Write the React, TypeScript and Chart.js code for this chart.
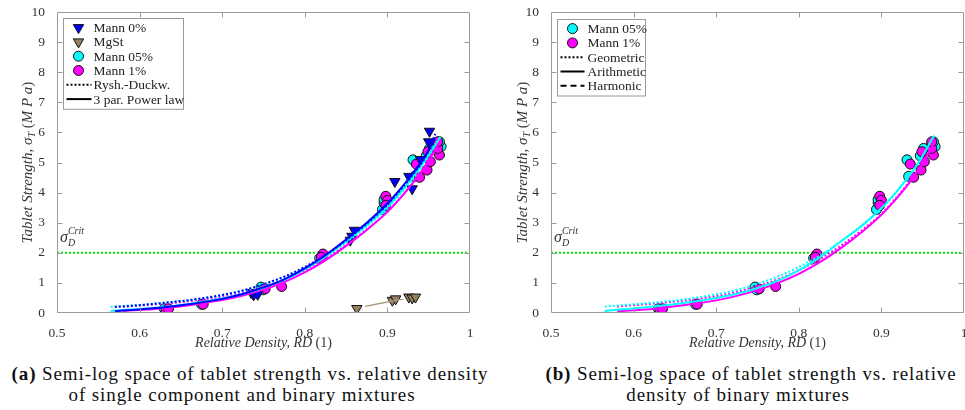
import React, { useEffect, useRef } from "react";
import { Chart, registerables } from "chart.js";

Chart.register(...registerables);

// ---------------- DATA ----------------
const X_TICKS = [0.5, 0.6, 0.7, 0.8, 0.9, 1];
const Y_TICKS = [0, 1, 2, 3, 4, 5, 6, 7, 8, 9, 10];
const CRIT_STRENGTH = 2;

// Mann 0% (blue down triangles)
const MANN0_RD = [0.735, 0.738, 0.743, 0.855, 0.857, 0.86, 0.909, 0.926, 0.93, 0.94, 0.95, 0.951];
const MANN0_TS = [0.68, 0.6, 0.62, 2.42, 2.55, 2.75, 4.37, 4.54, 4.13, 5.1, 5.69, 6.04];

// MgSt (brown down triangles)
const MGST_RD = [0.863, 0.906, 0.91, 0.926, 0.93, 0.934];
const MGST_TS = [0.15, 0.42, 0.47, 0.53, 0.5, 0.53];
const MGST_FIT_RD = [0.873, 0.92];
const MGST_FIT_TS = [0.22, 0.47];

// Mann 05% (cyan circles)
const MANN05_RD = [0.63, 0.675, 0.747, 0.749, 0.818, 0.894, 0.896, 0.896, 0.931, 0.933, 0.947, 0.951, 0.961, 0.965, 0.963];
const MANN05_TS = [0.14, 0.29, 0.86, 0.77, 1.82, 3.44, 3.66, 3.77, 5.09, 4.54, 5.22, 5.47, 5.64, 5.53, 5.69];

// Mann 1% (magenta circles)
const MANN1_RD = [0.632, 0.635, 0.677, 0.752, 0.772, 0.822, 0.82, 0.898, 0.9, 0.898, 0.935, 0.939, 0.948, 0.952, 0.949, 0.963, 0.961, 0.961];
const MANN1_TS = [0.09, 0.14, 0.29, 0.8, 0.88, 1.96, 1.85, 3.88, 3.74, 3.58, 4.95, 4.51, 4.75, 5.03, 5.36, 5.25, 5.47, 5.69];

// Relative-density stations at which the fitted curves were read
const RD_BLUE = [0.57, 0.6, 0.63, 0.66, 0.7, 0.725, 0.75, 0.775, 0.8, 0.825, 0.85, 0.875, 0.9, 0.915, 0.93, 0.945, 0.958];
const RD_CYAN = [0.565, 0.6, 0.63, 0.66, 0.7, 0.725, 0.75, 0.775, 0.8, 0.825, 0.85, 0.875, 0.9, 0.915, 0.93, 0.945, 0.964];
const RD_MAG = [0.58, 0.6, 0.63, 0.66, 0.7, 0.725, 0.75, 0.775, 0.8, 0.825, 0.85, 0.875, 0.9, 0.915, 0.93, 0.945, 0.965];

// Left panel: 3 par. power law (solid) and Ryshkewitch-Duckworth (dotted)
const POW_BLUE_TS = [0.06, 0.12, 0.19, 0.29, 0.47, 0.63, 0.85, 1.12, 1.48, 1.92, 2.44, 3.0, 3.64, 4.1, 4.62, 5.18, 5.8];
const POW_CYAN_TS = [0.07, 0.13, 0.2, 0.3, 0.48, 0.63, 0.84, 1.1, 1.45, 1.87, 2.38, 2.92, 3.54, 3.98, 4.49, 5.05, 5.85];
const POW_MAG_TS = [0.07, 0.1, 0.16, 0.26, 0.43, 0.58, 0.78, 1.03, 1.35, 1.75, 2.23, 2.76, 3.36, 3.8, 4.3, 4.86, 5.75];
const RYSH_BLUE_TS = [0.2, 0.26, 0.34, 0.43, 0.6, 0.75, 0.96, 1.21, 1.53, 1.93, 2.42, 2.97, 3.6, 4.06, 4.57, 5.14, 5.95];
const RYSH_CYAN_TS = [0.21, 0.27, 0.34, 0.43, 0.59, 0.74, 0.94, 1.19, 1.5, 1.88, 2.35, 2.88, 3.48, 3.93, 4.43, 5.0, 5.85];
const RYSH_MAG_TS = [0.21, 0.25, 0.31, 0.39, 0.54, 0.68, 0.87, 1.11, 1.42, 1.8, 2.26, 2.78, 3.36, 3.8, 4.28, 4.83, 5.72];

// Right panel: arithmetic (solid) and geometric (dotted) mixture fits
const ARITH_CYAN_TS = [0.07, 0.15, 0.23, 0.33, 0.5, 0.64, 0.83, 1.08, 1.42, 1.84, 2.36, 2.87, 3.48, 3.92, 4.43, 5.0, 5.9];
const ARITH_MAG_TS = [0.06, 0.09, 0.15, 0.26, 0.42, 0.57, 0.76, 1.0, 1.3, 1.68, 2.14, 2.66, 3.26, 3.7, 4.19, 4.76, 5.7];
const GEO_CYAN_TS = [0.22, 0.29, 0.36, 0.45, 0.62, 0.77, 0.97, 1.22, 1.53, 1.9, 2.36, 2.88, 3.48, 3.92, 4.43, 5.0, 5.92];
const GEO_MAG_TS = [0.22, 0.26, 0.33, 0.41, 0.56, 0.7, 0.89, 1.12, 1.42, 1.78, 2.22, 2.72, 3.3, 3.74, 4.23, 4.78, 5.72];

const LEFT_LEGEND = ["Mann 0%", "MgSt", "Mann 05%", "Mann 1%", "Rysh.-Duckw.", "3 par. Power law"];
const RIGHT_LEGEND = ["Mann 05%", "Mann 1%", "Geometric", "Arithmetic", "Harmonic"];

const CAPTION_A = ["Semi-log space of tablet strength vs. relative density", "of single component and binary mixtures"];
const CAPTION_B = ["Semi-log space of tablet strength vs. relative", "density of binary mixtures"];

// ---------------- STYLE ----------------
const SERIF = "'Liberation Serif', 'Times New Roman', serif";
const BLUE = "#0000ff";
const CYAN = "#00ffff";
const MAG = "#ff00ff";
const BROWN = "#96805f";
const GREEN = "#00ee00";
const AXIS = "#9a9a9a";
const TEXT = "#333333";

const pts = (xs: number[], ys: number[]) => xs.map((x, i) => ({ x, y: ys[i] }));

function scatterDs(label: string, xs: number[], ys: number[], color: string, style: string, radius: number, order: number) {
  return {
    label,
    data: pts(xs, ys),
    showLine: false,
    pointStyle: style,
    pointRotation: style === "triangle" ? 180 : 0,
    pointRadius: radius,
    pointBackgroundColor: color,
    pointBorderColor: "#111111",
    pointBorderWidth: 1,
    order,
  };
}

function lineDs(label: string, xs: number[], ys: number[], color: string, dash: number[], width: number, order: number) {
  return {
    label,
    data: pts(xs, ys),
    showLine: true,
    borderColor: color,
    borderWidth: width,
    borderDash: dash,
    pointRadius: 0,
    cubicInterpolationMode: "monotone",
    fill: false,
    order,
  };
}

const DOT = [2, 2];

type LegendItem = { label: string; kind: string; color?: string; dash?: number[] };

function drawSegs(ctx: CanvasRenderingContext2D, segs: { t: string; f: string; dy?: number }[], x: number, y: number) {
  let w = 0;
  for (const s of segs) {
    ctx.font = s.f;
    w += ctx.measureText(s.t).width;
  }
  let cx = x - w / 2;
  for (const s of segs) {
    ctx.font = s.f;
    ctx.fillText(s.t, cx, y + (s.dy || 0));
    cx += ctx.measureText(s.t).width;
  }
}

const decorPlugin = {
  id: "decor",
  afterDatasetsDraw(chart: any) {
    const ctx: CanvasRenderingContext2D = chart.ctx;
    const { left, right, top, bottom } = chart.chartArea;
    const xs = chart.scales.x;
    const ys = chart.scales.y;
    ctx.save();
    ctx.strokeStyle = AXIS;
    ctx.lineWidth = 1;
    const L = Math.round(left) + 0.5;
    const R = Math.round(right) - 0.5;
    const T = Math.round(top) + 0.5;
    const B = Math.round(bottom) - 0.5;
    ctx.beginPath();
    ctx.rect(L, T, R - L, B - T);
    for (const v of X_TICKS.slice(1, -1)) {
      const px = Math.round(xs.getPixelForValue(v)) + 0.5;
      ctx.moveTo(px, B);
      ctx.lineTo(px, B - 5);
      ctx.moveTo(px, T);
      ctx.lineTo(px, T + 5);
    }
    for (const v of Y_TICKS.slice(1, -1)) {
      const py = Math.round(ys.getPixelForValue(v)) + 0.5;
      ctx.moveTo(L, py);
      ctx.lineTo(L + 5, py);
      ctx.moveTo(R, py);
      ctx.lineTo(R - 5, py);
    }
    ctx.stroke();
    ctx.restore();
  },
  afterDraw(chart: any, _args: any, opts: any) {
    const ctx: CanvasRenderingContext2D = chart.ctx;
    const { left, right, top, bottom } = chart.chartArea;
    const ys = chart.scales.y;
    ctx.save();
    ctx.fillStyle = TEXT;
    ctx.textBaseline = "alphabetic";
    ctx.textAlign = "left";

    // x title
    drawSegs(
      ctx,
      [
        { t: "Relative Density, RD ", f: `italic 14px ${SERIF}` },
        { t: "(1)", f: `14px ${SERIF}` },
      ],
      (left + right) / 2,
      bottom + 34
    );

    // y title
    ctx.save();
    ctx.translate(opts.yTitleX, (top + bottom) / 2);
    ctx.rotate(-Math.PI / 2);
    drawSegs(
      ctx,
      [
        { t: "Tablet Strength, ", f: `italic 15px ${SERIF}` },
        { t: "σ", f: `italic 15px ${SERIF}` },
        { t: "T", f: `italic 10px ${SERIF}`, dy: 3 },
        { t: " (", f: `15px ${SERIF}` },
        { t: "M P a", f: `italic 15px ${SERIF}` },
        { t: ")", f: `15px ${SERIF}` },
      ],
      0,
      5
    );
    ctx.restore();

    // sigma_D^Crit label
    const by = ys.getPixelForValue(CRIT_STRENGTH + 0.35);
    ctx.font = `italic 16px ${SERIF}`;
    const sx = left + 3;
    ctx.fillText("σ", sx, by);
    const sw = ctx.measureText("σ").width;
    ctx.font = `italic 10px ${SERIF}`;
    ctx.fillText("D", sx + sw, by + 4);
    ctx.fillText("Crit", sx + sw, by - 8);

    // legend
    const items: LegendItem[] = opts.legend;
    const lx = left + 6;
    const ly = top + opts.legendDy;
    const rowH = 14.3;
    const bw = opts.legendW;
    const bh = items.length * rowH + 5;
    ctx.fillStyle = "#ffffff";
    ctx.fillRect(lx, ly, bw, bh);
    ctx.strokeStyle = AXIS;
    ctx.lineWidth = 1;
    ctx.strokeRect(Math.round(lx) + 0.5, Math.round(ly) + 0.5, bw, bh);
    items.forEach((it, i) => {
      const cy = ly + 9.5 + i * rowH;
      const mx = lx + opts.markerDx;
      if (it.kind === "tri") {
        ctx.save();
        ctx.fillStyle = it.color!;
        ctx.strokeStyle = "#111111";
        ctx.beginPath();
        const r = 6;
        ctx.moveTo(mx, cy + r);
        ctx.lineTo(mx + r * 0.866, cy - r / 2);
        ctx.lineTo(mx - r * 0.866, cy - r / 2);
        ctx.closePath();
        ctx.fill();
        ctx.stroke();
        ctx.restore();
      } else if (it.kind === "circle") {
        ctx.save();
        ctx.fillStyle = it.color!;
        ctx.strokeStyle = "#111111";
        ctx.beginPath();
        ctx.arc(mx, cy, 5, 0, Math.PI * 2);
        ctx.fill();
        ctx.stroke();
        ctx.restore();
      } else {
        ctx.save();
        ctx.strokeStyle = "#000000";
        ctx.lineWidth = 2;
        ctx.setLineDash(it.dash || []);
        ctx.beginPath();
        ctx.moveTo(lx + opts.lineX0, cy);
        ctx.lineTo(lx + opts.lineX1, cy);
        ctx.stroke();
        ctx.restore();
      }
      ctx.fillStyle = "#222222";
      ctx.font = `13.5px ${SERIF}`;
      ctx.fillText(it.label, lx + opts.textDx, cy + 4.5);
    });
    ctx.restore();
  },
};

function baseOptions(yAxisW: number, padRight: number, canvasH: number, decor: any) {
  return {
    responsive: false,
    animation: false,
    devicePixelRatio: 1,
    layout: { padding: { top: 9, right: padRight, left: 0, bottom: 0 } },
    plugins: { legend: { display: false }, tooltip: { enabled: false }, decor },
    scales: {
      x: {
        type: "linear",
        min: 0.5,
        max: 1,
        afterBuildTicks: (s: any) => {
          s.ticks = X_TICKS.map((v) => ({ value: v }));
        },
        afterFit: (s: any) => {
          s.height = canvasH - 313;
        },
        grid: { display: false },
        border: { display: false },
        ticks: {
          padding: 4,
          color: TEXT,
          font: { family: SERIF, size: 13.5 },
          maxRotation: 0,
          callback: (v: number) => String(Math.round(v * 10) / 10),
        },
      },
      y: {
        type: "linear",
        min: 0,
        max: 10,
        afterBuildTicks: (s: any) => {
          s.ticks = Y_TICKS.map((v) => ({ value: v }));
        },
        afterFit: (s: any) => {
          s.width = yAxisW;
        },
        grid: { display: false },
        border: { display: false },
        ticks: {
          padding: 4,
          color: TEXT,
          font: { family: SERIF, size: 13.5 },
          callback: (v: number) => String(v),
        },
      },
    },
  };
}

function leftConfig(canvasH: number) {
  const datasets: any[] = [
    lineDs("pow-blue", RD_BLUE, POW_BLUE_TS, BLUE, [], 2, 0),
    lineDs("rysh-blue", RD_BLUE, RYSH_BLUE_TS, BLUE, DOT, 2, 0),
    lineDs("pow-cyan", RD_CYAN, POW_CYAN_TS, CYAN, [], 2, 0),
    lineDs("rysh-cyan", RD_CYAN, RYSH_CYAN_TS, CYAN, DOT, 2, 0),
    lineDs("pow-mag", RD_MAG, POW_MAG_TS, MAG, [], 2, 0),
    lineDs("rysh-mag", RD_MAG, RYSH_MAG_TS, MAG, DOT, 2, 0),
    lineDs("mgst-fit", MGST_FIT_RD, MGST_FIT_TS, "#a8967c", [], 1.5, 1),
    scatterDs(LEFT_LEGEND[0], MANN0_RD, MANN0_TS, BLUE, "triangle", 6, 2),
    scatterDs(LEFT_LEGEND[1], MGST_RD, MGST_TS, BROWN, "triangle", 6, 2),
    scatterDs(LEFT_LEGEND[3], MANN1_RD, MANN1_TS, MAG, "circle", 5, 3),
    scatterDs(LEFT_LEGEND[2], MANN05_RD, MANN05_TS, CYAN, "circle", 5, 4),
    lineDs("crit", [0.5, 1], [CRIT_STRENGTH, CRIT_STRENGTH], GREEN, DOT, 2, 9),
  ];
  const legend: LegendItem[] = [
    { label: LEFT_LEGEND[0], kind: "tri", color: BLUE },
    { label: LEFT_LEGEND[1], kind: "tri", color: BROWN },
    { label: LEFT_LEGEND[2], kind: "circle", color: CYAN },
    { label: LEFT_LEGEND[3], kind: "circle", color: MAG },
    { label: LEFT_LEGEND[4], kind: "line", dash: DOT },
    { label: LEFT_LEGEND[5], kind: "line", dash: [] },
  ];
  return {
    type: "line",
    data: { datasets },
    options: baseOptions(57, 10, canvasH, {
      legend,
      legendDy: 6,
      legendW: 120,
      markerDx: 15.5,
      textDx: 30.5,
      lineX0: 3.5,
      lineX1: 28.5,
      yTitleX: 27,
    }),
    plugins: [decorPlugin],
  };
}

function rightConfig(canvasH: number) {
  const datasets: any[] = [
    lineDs("arith-cyan", RD_CYAN, ARITH_CYAN_TS, CYAN, [], 2, 0),
    lineDs("geo-cyan", RD_CYAN, GEO_CYAN_TS, CYAN, DOT, 2, 0),
    lineDs("arith-mag", RD_MAG, ARITH_MAG_TS, MAG, [], 2, 0),
    lineDs("geo-mag", RD_MAG, GEO_MAG_TS, MAG, DOT, 2, 0),
    scatterDs(RIGHT_LEGEND[1], MANN1_RD, MANN1_TS, MAG, "circle", 5, 3),
    scatterDs(RIGHT_LEGEND[0], MANN05_RD, MANN05_TS, CYAN, "circle", 5, 4),
    lineDs("crit", [0.5, 1], [CRIT_STRENGTH, CRIT_STRENGTH], GREEN, DOT, 2, 9),
  ];
  const legend: LegendItem[] = [
    { label: RIGHT_LEGEND[0], kind: "circle", color: CYAN },
    { label: RIGHT_LEGEND[1], kind: "circle", color: MAG },
    { label: RIGHT_LEGEND[2], kind: "line", dash: DOT },
    { label: RIGHT_LEGEND[3], kind: "line", dash: [] },
    { label: RIGHT_LEGEND[4], kind: "line", dash: [6, 4] },
  ];
  return {
    type: "line",
    data: { datasets },
    options: baseOptions(69, 18, canvasH, {
      legend,
      legendDy: 7,
      legendW: 88,
      markerDx: 15.5,
      textDx: 30.5,
      lineX0: 3.5,
      lineX1: 27.5,
      yTitleX: 40,
    }),
    plugins: [decorPlugin],
  };
}

function ChartCanvas({ cfg, left, width, height }: { cfg: (h: number) => any; left: number; width: number; height: number }) {
  const ref = useRef<HTMLCanvasElement | null>(null);
  useEffect(() => {
    if (!ref.current) return;
    const chart = new Chart(ref.current, cfg(height));
    return () => {
      chart.destroy();
    };
  }, []);
  return (
    <canvas
      ref={ref}
      width={width}
      height={height}
      style={{ position: "absolute", left, top: 0, width, height, display: "block" }}
    />
  );
}

const capStyle: React.CSSProperties = {
  position: "absolute",
  fontFamily: SERIF,
  fontSize: 19,
  letterSpacing: "0.9px",
  lineHeight: "20px",
  color: "#111111",
  textAlign: "center",
  whiteSpace: "nowrap",
};

export default function App() {
  return (
    <div
      style={{
        position: "absolute",
        left: 0,
        top: 0,
        width: 965,
        height: 410,
        overflow: "hidden",
        background: "#ffffff",
      }}
    >
      <ChartCanvas cfg={leftConfig} left={0} width={480} height={350} />
      <ChartCanvas cfg={rightConfig} left={482} width={500} height={350} />
      <div style={{ ...capStyle, left: 0, width: 500, top: 364 }}>
        <b>(a)</b> {CAPTION_A[0]}
      </div>
      <div style={{ ...capStyle, left: -8, width: 500, top: 385 }}>{CAPTION_A[1]}</div>
      <div style={{ ...capStyle, left: 501, width: 500, top: 364 }}>
        <b>(b)</b> {CAPTION_B[0]}
      </div>
      <div style={{ ...capStyle, left: 488, width: 500, top: 385 }}>{CAPTION_B[1]}</div>
    </div>
  );
}
